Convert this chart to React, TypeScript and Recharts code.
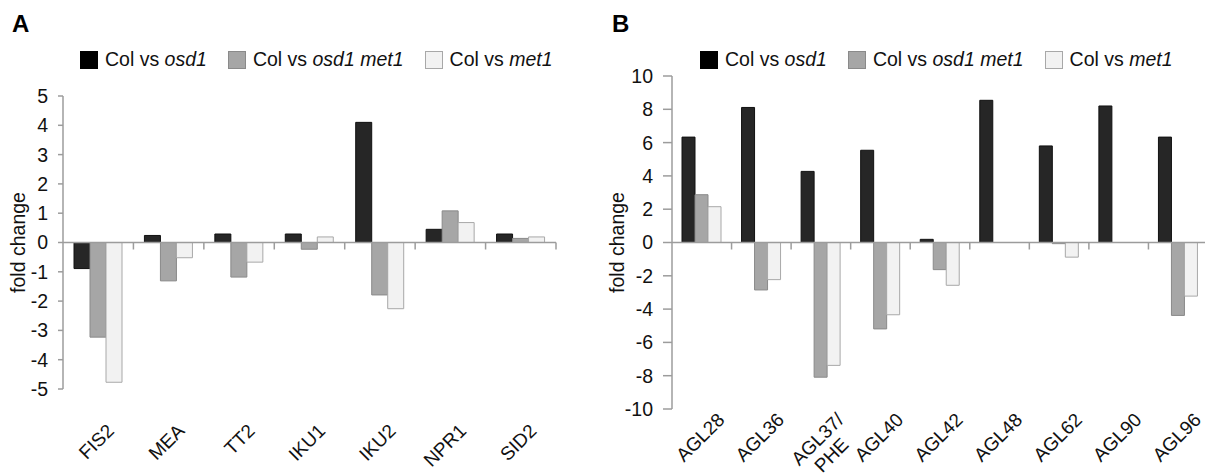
import { BarChart, Bar, XAxis, YAxis, ReferenceLine, Legend } from "recharts";

// panel A
const genesA = ["FIS2", "MEA", "TT2", "IKU1", "IKU2", "NPR1", "SID2"];
const osd1A = [-0.89, 0.24, 0.29, 0.29, 4.1, 0.45, 0.29];
const osd1met1A = [-3.23, -1.31, -1.18, -0.23, -1.79, 1.08, 0.14];
const met1A = [-4.77, -0.52, -0.67, 0.19, -2.26, 0.68, 0.19];
const ticksA = [-5, -4, -3, -2, -1, 0, 1, 2, 3, 4, 5];

// panel B
const genesB = ["AGL28", "AGL36", "AGL37/\nPHE", "AGL40", "AGL42", "AGL48", "AGL62", "AGL90", "AGL96"];
const osd1B = [6.33, 8.11, 4.27, 5.54, 0.19, 8.54, 5.8, 8.2, 6.33];
const osd1met1B = [2.87, -2.85, -8.09, -5.19, -1.63, null, -0.07, null, -4.38];
const met1B = [2.15, -2.23, -7.38, -4.34, -2.57, null, -0.88, null, -3.22];
const ticksB = [-10, -8, -6, -4, -2, 0, 2, 4, 6, 8, 10];

const seriesNames = ["osd1", "osd1 met1", "met1"];
const seriesKeys = ["osd1", "osd1met1", "met1"];
const fills = ["#262626", "#a6a6a6", "#f2f2f2"];
const strokes = ["#111111", "#8a8a8a", "#a8a8a8"];

const FONT = '"Liberation Sans", Arial, Helvetica, sans-serif';
const AXIS = "#9c9c9c";

const toRows = (cats: string[], a: (number | null)[], b: (number | null)[], c: (number | null)[]) =>
  cats.map((gene, i) => ({ gene, osd1: a[i], osd1met1: b[i], met1: c[i] }));

const dataA = toRows(genesA, osd1A, osd1met1A, met1A);
const dataB = toRows(genesB, osd1B, osd1met1B, met1B);

const LegendBox = () => (
  <div style={{ display: "flex", alignItems: "center", fontFamily: FONT, fontSize: 19.5, color: "#111" }}>
    {seriesNames.map((n, i) => (
      <div key={n} style={{ display: "flex", alignItems: "center", marginRight: 21 }}>
        <span
          style={{
            display: "inline-block",
            width: 16,
            height: 16,
            background: i === 0 ? "#000" : fills[i],
            border: `1px solid ${i === 0 ? "#000" : strokes[i]}`,
            marginRight: 7,
          }}
        />
        <span style={{ whiteSpace: "nowrap" }}>
          Col vs <i>{n}</i>
        </span>
      </div>
    ))}
  </div>
);

// zero line with category boundary ticks hanging below
const zeroAxis = (n: number) => (props: any) => {
  const { x1, x2, y1 } = props;
  const step = (x2 - x1) / n;
  const marks = [];
  for (let i = 1; i <= n; i++) {
    const x = x1 + i * step;
    marks.push(<line key={i} x1={x} x2={x} y1={y1} y2={y1 + 7} stroke={AXIS} strokeWidth={1.5} />);
  }
  return (
    <g>
      <line x1={x1} x2={x2} y1={y1} y2={y1} stroke={AXIS} strokeWidth={1.5} />
      {marks}
    </g>
  );
};

const slantTick = (dx: number, dy: number) => (props: any) => {
  const { x, y, payload } = props;
  const lines = String(payload.value).split("\n");
  return (
    <g transform={`translate(${x + dx},${y + dy}) rotate(-45)`}>
      {lines.map((ln, i) => (
        <text
          key={i}
          x={i === 0 ? 0 : -14}
          y={i * 21}
          textAnchor="end"
          fontFamily={FONT}
          fontSize={19}
          fill="#111"
        >
          {ln}
        </text>
      ))}
    </g>
  );
};

const FoldLabel = ({ viewBox, bx }: any) => {
  const cy = viewBox.y + viewBox.height / 2;
  return (
    <text
      x={bx}
      y={cy}
      transform={`rotate(-90 ${bx} ${cy})`}
      textAnchor="middle"
      fontFamily={FONT}
      fontSize={19.5}
      fill="#111"
    >
      fold change
    </text>
  );
};

const Panel = ({
  data,
  ticks,
  width,
  height,
  margin,
  yWidth,
  xHeight,
  tickSize,
  barSize,
  tickDx,
  tickDy,
  labelX,
  legendLeft,
  n,
}: any) => (
  <BarChart width={width} height={height} data={data} margin={margin} barGap={0}>
    <XAxis
      dataKey="gene"
      axisLine={false}
      tickLine={false}
      tickSize={0}
      tickMargin={0}
      interval={0}
      height={xHeight}
      tick={slantTick(tickDx, tickDy)}
    />
    <YAxis
      domain={[ticks[0], ticks[ticks.length - 1]]}
      ticks={ticks}
      width={yWidth}
      axisLine={{ stroke: AXIS, strokeWidth: 1.5 }}
      tickLine={{ stroke: AXIS, strokeWidth: 1.5 }}
      tickSize={tickSize}
      tickMargin={10}
      tick={{ fontFamily: FONT, fontSize: 19.5, fill: "#111" }}
      label={<FoldLabel bx={labelX} />}
    />
    <Legend
      verticalAlign="top"
      content={<LegendBox />}
      wrapperStyle={{ top: 48, left: legendLeft, width: "auto" }}
    />
    {seriesKeys.map((k, i) => (
      <Bar
        key={k}
        dataKey={k}
        fill={fills[i]}
        stroke={strokes[i]}
        strokeWidth={1}
        barSize={barSize}
        isAnimationActive={false}
      />
    ))}
    <ReferenceLine y={0} shape={zeroAxis(n)} />
  </BarChart>
);

export default function App() {
  return (
    <div
      style={{
        position: "absolute",
        left: 0,
        top: 0,
        width: 1205,
        height: 475,
        overflow: "hidden",
        background: "#fff",
      }}
    >
      <div style={{ position: "absolute", left: 12, top: 10, fontFamily: FONT, fontWeight: "bold", fontSize: 24 }}>A</div>
      <div style={{ position: "absolute", left: 612, top: 10, fontFamily: FONT, fontWeight: "bold", fontSize: 24 }}>B</div>
      <div style={{ position: "absolute", left: 0, top: 0 }}>
        <Panel
          data={dataA}
          ticks={ticksA}
          width={600}
          height={475}
          margin={{ top: 73, right: 44, left: 0, bottom: 6 }}
          yWidth={63}
          xHeight={80}
          tickSize={5}
          barSize={16}
          tickDx={17}
          tickDy={43}
          labelX={25}
          legendLeft={80}
          n={genesA.length}
        />
      </div>
      <div style={{ position: "absolute", left: 600, top: 0 }}>
        <Panel
          data={dataB}
          ticks={ticksB}
          width={620}
          height={475}
          margin={{ top: 53, right: 12, left: 0, bottom: 6 }}
          yWidth={72}
          xHeight={60}
          tickSize={9}
          barSize={13}
          tickDx={24}
          tickDy={12}
          labelX={24}
          legendLeft={100}
          n={genesB.length}
        />
      </div>
    </div>
  );
}
